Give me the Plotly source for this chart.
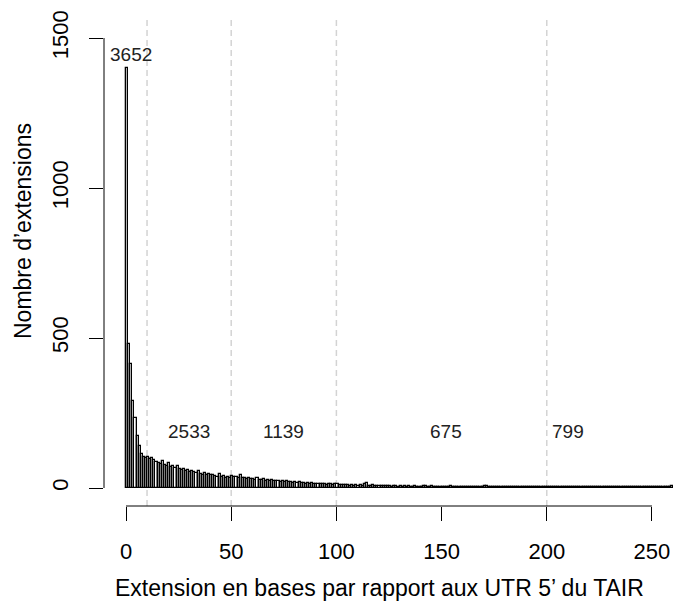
import plotly.graph_objects as go

# Histogram counts, one bin per base (bin width 1), from 0 to 260
counts_0_9 = [1400, 480, 415, 290, 235, 175, 140, 115, 105, 100]
counts_10_49 = [105, 98, 100, 92, 88, 85, 80, 90, 78, 75,
                82, 70, 72, 68, 75, 62, 60, 65, 58, 60,
                55, 58, 52, 50, 56, 48, 45, 50, 44, 46,
                42, 45, 40, 38, 48, 36, 40, 35, 38, 34]
counts_50_99 = [40, 36, 38, 34, 42, 33, 35, 30, 32, 31,
                30, 28, 32, 27, 26, 29, 25, 27, 24, 26,
                24, 22, 25, 21, 23, 20, 22, 19, 21, 18,
                19, 17, 20, 16, 18, 15, 17, 14, 16, 15,
                14, 13, 15, 12, 14, 11, 13, 12, 10, 12]
counts_100_199 = [12, 10, 11, 9, 10, 9, 8, 10, 8, 9,
                  8, 9, 7, 14, 16, 8, 7, 9, 6, 8,
                  7, 8, 6, 7, 6, 7, 5, 6, 7, 5,
                  6, 5, 7, 5, 6, 5, 4, 6, 5, 4,
                  5, 6, 8, 5, 4, 6, 5, 4, 5, 4,
                  5, 4, 5, 4, 6, 4, 5, 3, 4, 5,
                  4, 5, 4, 3, 5, 4, 3, 4, 5, 3,
                  6, 7, 4, 3, 4, 3, 4, 3, 3, 4,
                  3, 4, 3, 3, 4, 3, 2, 3, 4, 3,
                  3, 2, 3, 4, 3, 2, 3, 3, 2, 3]
counts_200_259 = [3, 2, 3, 3, 2, 3, 2, 3, 2, 3,
                  2, 3, 2, 2, 3, 2, 3, 2, 2, 3,
                  2, 2, 3, 2, 2, 3, 2, 2, 3, 2,
                  2, 3, 2, 2, 2, 3, 2, 2, 2, 3,
                  2, 2, 2, 3, 2, 2, 2, 3, 2, 2,
                  2, 2, 3, 2, 2, 2, 3, 2, 2, 6]

counts = counts_0_9 + counts_10_49 + counts_50_99 + counts_100_199 + counts_200_259
bin_left = list(range(len(counts)))

# Dashed separators and group totals
cut_points = [10, 50, 100, 200]
group_labels = ["3652", "2533", "1139", "675", "799"]
group_label_x = [2.5, 30, 75, 152, 210]
group_label_y = [1445, 188, 188, 188, 188]

x_ticks = [0, 50, 100, 150, 200, 250]
y_ticks = [0, 500, 1000, 1500]

FONT = "Liberation Sans, Arial, sans-serif"

fig = go.Figure()
fig.add_trace(go.Bar(
    x=[b + 0.5 for b in bin_left], y=counts, width=1,
    marker=dict(color="white", line=dict(color="black", width=1.3)),
    showlegend=False, hoverinfo="skip"))

shapes = []
for c in cut_points:
    shapes.append(dict(type="line", xref="x", yref="paper", x0=c, x1=c, y0=0, y1=1,
                       line=dict(color="#d3d3d3", width=1.5, dash="6px,4px"), layer="below"))
# R-style axis lines spanning only the tick range
shapes.append(dict(type="line", xref="x", yref="paper", x0=x_ticks[0], x1=x_ticks[-1], y0=0, y1=0,
                   line=dict(color="black", width=1)))
shapes.append(dict(type="line", xref="paper", yref="y", x0=0, x1=0, y0=y_ticks[0], y1=y_ticks[-1],
                   line=dict(color="black", width=1)))

annotations = []
for t, xx, yy in zip(group_labels, group_label_x, group_label_y):
    annotations.append(dict(x=xx, y=yy, xref="x", yref="y", text=t, showarrow=False,
                            xanchor="center", yanchor="middle",
                            font=dict(family=FONT, size=19, color="#222222")))
annotations.append(dict(x=(379 - 104) / 581, y=(506 - 588) / 486, xref="paper", yref="paper",
                        xanchor="center", yanchor="middle",
                        text="Extension en bases par rapport aux UTR 5’ du TAIR", showarrow=False,
                        font=dict(family=FONT, size=23, color="black")))
annotations.append(dict(x=(23 - 104) / 581, y=(506 - 231) / 486, xref="paper", yref="paper",
                        xanchor="center", yanchor="middle",
                        text="Nombre d’extensions", showarrow=False, textangle=-90,
                        font=dict(family=FONT, size=23, color="black")))

fig.update_layout(
    width=685, height=607,
    margin=dict(l=104, r=0, t=20, b=101),
    paper_bgcolor="white", plot_bgcolor="white",
    bargap=0,
    shapes=shapes, annotations=annotations,
    xaxis=dict(range=[-10.46, 265.7], tickvals=x_ticks, ticktext=[str(v) for v in x_ticks],
               ticks="outside", ticklen=14, tickwidth=1, tickcolor="black",
               showgrid=False, zeroline=False, showline=False,
               ticklabelstandoff=12,
               tickfont=dict(family=FONT, size=22, color="black")),
    yaxis=dict(range=[-60, 1560], tickvals=y_ticks, ticktext=[str(v) for v in y_ticks],
               ticks="outside", ticklen=14, tickwidth=1, tickcolor="black",
               showgrid=False, zeroline=False, showline=False, tickangle=-90,
               ticklabelstandoff=12,
               tickfont=dict(family=FONT, size=22, color="black")),
)

fig.write_html("out.html")
